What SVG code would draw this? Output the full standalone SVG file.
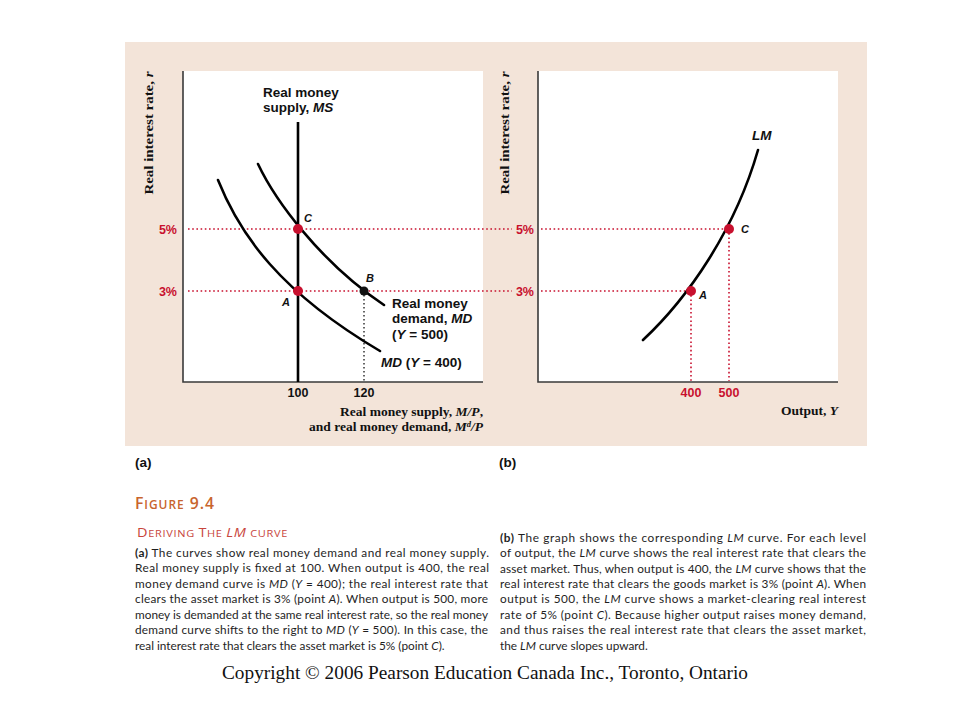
<svg xmlns="http://www.w3.org/2000/svg" width="960" height="720" viewBox="0 0 960 720">
<style>
.bg{fill:#f3e4d9}
.panel{fill:#ffffff}
.axis{stroke:#3a3a3a;stroke-width:1.6;fill:none}
.curve{stroke:#000;stroke-width:2.6;fill:none;stroke-linecap:round}
.ms{stroke:#000;stroke-width:2.6;fill:none}
.rdot{stroke:#c8102e;stroke-width:1.6;stroke-dasharray:1.6 2.6;fill:none}
.kdot{stroke:#333;stroke-width:1.5;stroke-dasharray:1.5 2.5;fill:none}
.lab{font-family:"Liberation Sans",Arial,sans-serif;font-weight:bold;font-size:13.5px;fill:#111}
.pt{font-family:"Liberation Sans",Arial,sans-serif;font-weight:bold;font-style:italic;font-size:11px;fill:#111}
.tick{font-family:"Liberation Sans",Arial,sans-serif;font-weight:bold;font-size:12.5px;fill:#111;text-anchor:middle}
.rtick{font-family:"Liberation Sans",Arial,sans-serif;font-weight:bold;font-size:12.5px;fill:#c8102e}
.ax{font-family:"Liberation Serif","Times New Roman",serif;font-weight:bold;font-size:13.5px;fill:#111}
.body{font-family:Lato,"Open Sans",sans-serif;font-size:11.8px;fill:#1e1e1e}
.it{font-style:italic}
.rpt{fill:#c8102e}
</style>

<rect class="bg" x="125" y="42" width="742" height="404"/>

<g id="panel-a">
  <rect class="panel" x="183" y="71" width="300" height="311"/>
  <path class="axis" d="M183,71 V382 H483"/>
  <text class="ax" transform="translate(153,133) rotate(-90)" text-anchor="middle" textLength="123" lengthAdjust="spacingAndGlyphs">Real interest rate, <tspan class="it">r</tspan></text>
  <text class="ax" x="483" y="416" text-anchor="end" font-size="13">Real money supply, <tspan class="it">M/P</tspan>,</text>
  <text class="ax" x="483" y="431" text-anchor="end" font-size="13">and real money demand, <tspan class="it">M</tspan><tspan class="it" font-size="8.5" dy="-4">d</tspan><tspan class="it" dy="4">/P</tspan></text>
  <text class="tick" x="298" y="397">100</text>
  <text class="tick" x="364" y="397">120</text>
  <text class="rtick" x="177" y="234" text-anchor="end">5%</text>
  <text class="rtick" x="177" y="296" text-anchor="end">3%</text>
</g>

<g id="panel-b">
  <rect class="panel" x="538" y="71" width="300" height="311"/>
  <path class="axis" d="M538,71 V382 H838"/>
  <text class="ax" transform="translate(509,133) rotate(-90)" text-anchor="middle" textLength="123" lengthAdjust="spacingAndGlyphs">Real interest rate, <tspan class="it">r</tspan></text>
  <text class="ax" x="838" y="415" text-anchor="end">Output, <tspan class="it">Y</tspan></text>
  <text class="rtick" x="691" y="397" text-anchor="middle">400</text>
  <text class="rtick" x="729" y="397" text-anchor="middle">500</text>
  <text class="rtick" x="534" y="234" text-anchor="end">5%</text>
  <text class="rtick" x="534" y="296" text-anchor="end">3%</text>
</g>

<g id="connectors">
  <line class="rdot" x1="188" y1="229" x2="512" y2="229"/>
  <line class="rdot" x1="188" y1="291" x2="512" y2="291"/>
  <line class="rdot" x1="541" y1="229" x2="729" y2="229"/>
  <line class="rdot" x1="541" y1="291" x2="691" y2="291"/>
  <line class="rdot" x1="691" y1="291" x2="691" y2="381"/>
  <line class="rdot" x1="729" y1="229" x2="729" y2="381"/>
  <line class="kdot" x1="364" y1="291" x2="364" y2="381"/>
</g>

<g id="ms-curve">
  <line class="ms" x1="298" y1="122" x2="298" y2="382"/>
  <text class="lab" x="263" y="97">Real money</text>
  <text class="lab" x="263" y="112">supply, <tspan class="it">MS</tspan></text>
</g>

<g id="md400-curve">
  <path class="curve" d="M218,180 C240,235 280,292 380,351"/>
  <text class="lab" x="381" y="367"><tspan class="it">MD</tspan> (<tspan class="it">Y</tspan> = 400)</text>
</g>

<g id="md500-curve">
  <path class="curve" d="M258,164 C275,200 320,262 384,305"/>
  <text class="lab" x="392" y="308">Real money</text>
  <text class="lab" x="392" y="323">demand, <tspan class="it">MD</tspan></text>
  <text class="lab" x="392" y="339">(<tspan class="it">Y</tspan> = 500)</text>
</g>

<g id="lm-curve">
  <path class="curve" d="M643,340 C688,298 735,230 758,150"/>
  <text class="lab it" x="752" y="140">LM</text>
</g>

<g id="point-a-left">
  <circle class="rpt" cx="298" cy="291" r="5"/>
  <text class="pt" x="282" y="306">A</text>
</g>
<g id="point-c-left">
  <circle class="rpt" cx="298" cy="229" r="5"/>
  <text class="pt" x="304" y="222">C</text>
</g>
<g id="point-b-left">
  <circle fill="#111" cx="364" cy="291" r="4.5"/>
  <text class="pt" x="366" y="282">B</text>
</g>
<g id="point-a-right">
  <circle class="rpt" cx="691" cy="291" r="5"/>
  <text class="pt" x="699" y="299">A</text>
</g>
<g id="point-c-right">
  <circle class="rpt" cx="729" cy="229" r="5"/>
  <text class="pt" x="741" y="233">C</text>
</g>

<g id="captions">
  <text class="lab" x="135" y="467" font-size="12.5">(a)</text>
  <text class="lab" x="499" y="467" font-size="12.5">(b)</text>

  <text x="135" y="509" font-family="'Open Sans',Lato,sans-serif" font-weight="600" fill="#c8642d" letter-spacing="1" textLength="80" lengthAdjust="spacingAndGlyphs"><tspan font-size="16.5">F</tspan><tspan font-size="12.5">IGURE</tspan><tspan font-size="16.5"> 9.4</tspan></text>
  <text x="137" y="537" font-family="'Open Sans',Lato,sans-serif" fill="#c8453c" letter-spacing="0.6" textLength="151" lengthAdjust="spacingAndGlyphs"><tspan font-size="12.5">D</tspan><tspan font-size="9.5">ERIVING </tspan><tspan font-size="12.5">T</tspan><tspan font-size="9.5">HE </tspan><tspan font-size="12.5" font-style="italic">LM</tspan><tspan font-size="9.5"> CURVE</tspan></text>

  <text class="body" x="135" y="557" textLength="354" lengthAdjust="spacing"><tspan font-weight="bold">(a)</tspan> The curves show real money demand and real money supply.</text>
  <text class="body" x="135" y="572" textLength="354" lengthAdjust="spacing">Real money supply is fixed at 100. When output is 400, the real</text>
  <text class="body" x="135" y="588" textLength="353" lengthAdjust="spacing">money demand curve is <tspan class="it">MD</tspan> (<tspan class="it">Y</tspan> = 400); the real interest rate that</text>
  <text class="body" x="135" y="603" textLength="353" lengthAdjust="spacing">clears the asset market is 3% (point <tspan class="it">A</tspan>). When output is 500, more</text>
  <text class="body" x="135" y="619" textLength="353" lengthAdjust="spacing">money is demanded at the same real interest rate, so the real money</text>
  <text class="body" x="135" y="634" textLength="353" lengthAdjust="spacing">demand curve shifts to the right to <tspan class="it">MD</tspan> (<tspan class="it">Y</tspan> = 500). In this case, the</text>
  <text class="body" x="135" y="650">real interest rate that clears the asset market is 5% (point <tspan class="it">C</tspan>).</text>

  <text class="body" x="500" y="542" textLength="366" lengthAdjust="spacing"><tspan font-weight="bold">(b)</tspan> The graph shows the corresponding <tspan class="it">LM</tspan> curve. For each level</text>
  <text class="body" x="500" y="557" textLength="366" lengthAdjust="spacing">of output, the <tspan class="it">LM</tspan> curve shows the real interest rate that clears the</text>
  <text class="body" x="500" y="573" textLength="366" lengthAdjust="spacing">asset market. Thus, when output is 400, the <tspan class="it">LM</tspan> curve shows that the</text>
  <text class="body" x="500" y="588" textLength="366" lengthAdjust="spacing">real interest rate that clears the goods market is 3% (point <tspan class="it">A</tspan>). When</text>
  <text class="body" x="500" y="603" textLength="366" lengthAdjust="spacing">output is 500, the <tspan class="it">LM</tspan> curve shows a market-clearing real interest</text>
  <text class="body" x="500" y="619" textLength="366" lengthAdjust="spacing">rate of 5% (point <tspan class="it">C</tspan>). Because higher output raises money demand,</text>
  <text class="body" x="500" y="634" textLength="366" lengthAdjust="spacing">and thus raises the real interest rate that clears the asset market,</text>
  <text class="body" x="500" y="650">the <tspan class="it">LM</tspan> curve slopes upward.</text>

  <text x="485" y="679" text-anchor="middle" font-family="'Liberation Serif','Times New Roman',serif" font-size="19.5" fill="#111" textLength="526" lengthAdjust="spacingAndGlyphs">Copyright © 2006 Pearson Education Canada Inc., Toronto, Ontario</text>
</g>
</svg>
